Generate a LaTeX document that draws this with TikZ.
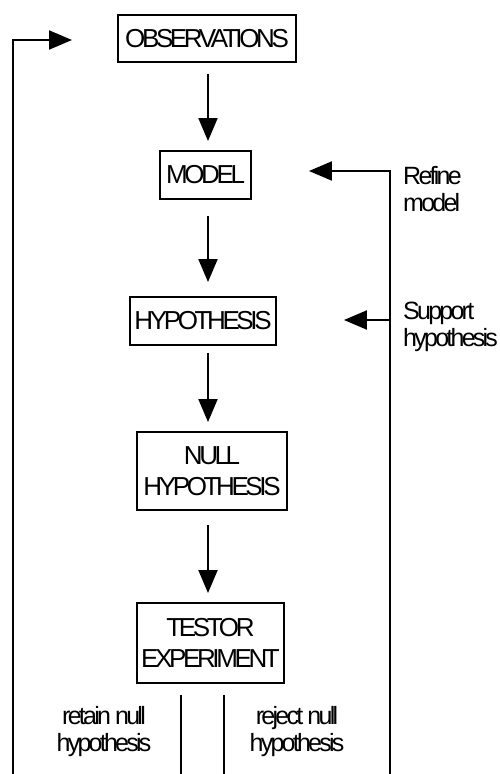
\documentclass[tikz,border=0pt]{standalone}
\usepackage{fontspec}
\usetikzlibrary{positioning, arrows.meta, calc}
\newfontfamily\boxfont[LetterSpace=-13]{Liberation Sans}
\newfontfamily\lblfont[LetterSpace=-11]{Liberation Sans}
\tikzset{
  box/.style={draw, line width=1.9pt, inner sep=0pt, align=center, font=\boxfont\fontsize{26}{31}\selectfont},
  arr/.style={-{Triangle[length=23pt,width=19pt]}, line width=2pt},
  line/.style={line width=2pt},
  lbl/.style={inner sep=0pt, font=\lblfont\fontsize{25}{27}\selectfont}
}

\begin{document}
\begin{tikzpicture}[x=1pt, y=-1pt]
\useasboundingbox (0,0) rectangle (500,774);
% main chain
\node[box, minimum width=178pt, minimum height=47pt] (obs) at (207,38.5) {OBSERVATIONS};
\node[box, minimum width=91pt, minimum height=48pt] (model) at (205.5,175) {MODEL};
\node[box, minimum width=146pt, minimum height=48pt] (hyp) at (203,321) {HYPOTHESIS};
\node[box, minimum width=150pt, minimum height=78pt] (null) at (212,471) {NULL\\HYPOTHESIS};
\node[box, minimum width=147pt, minimum height=80pt] (test) at (210.5,643) {TESTOR\\EXPERIMENT};
\coordinate (axis) at (208,0);
\draw[arr, shorten <=11pt, shorten >=9pt] (obs.south -| axis) -- (model.north -| axis);
\draw[arr, shorten <=16pt, shorten >=14pt] (model.south -| axis) -- (hyp.north -| axis);
\draw[arr, shorten <=7pt, shorten >=9pt] (hyp.south -| axis) -- (null.north -| axis);
\draw[arr, shorten <=14pt, shorten >=9pt] (null.south -| axis) -- (test.north -| axis);
% outcomes
\draw[line] ([xshift=-29.5pt, yshift=-11pt]test.south) -- ++(0,80);
\draw[line] ([xshift=13.5pt, yshift=-11pt]test.south) -- ++(0,80);
\node[lbl, align=center, anchor=north] (retain) at (104,706) {retain null\\hypothesis};
\node[lbl, align=center, anchor=north] (reject) at (297,706) {reject null\\hypothesis};
% feedback loops
\coordinate (lbot) at (13,774);
\coordinate (ltop) at (13,40);
\coordinate (ltip) at (72,40);
\draw[arr] (lbot) -- (ltop) -- (ltip);
\coordinate (rbot) at (390,774);
\coordinate (rtop) at (390,171);
\coordinate (rmid) at (390,320);
\draw[arr, shorten >=57pt] (rbot) -- (rtop) -- (model.east |- rtop);
\draw[arr, shorten >=67pt] (rmid) -- (hyp.east |- rmid);
\node[lbl, align=left, anchor=north west] (refine) at (403,166) {Refine\\model};
\node[lbl, align=left, anchor=north west] (support) at (403,302) {Support\\hypothesis};
\end{tikzpicture}
\end{document}
